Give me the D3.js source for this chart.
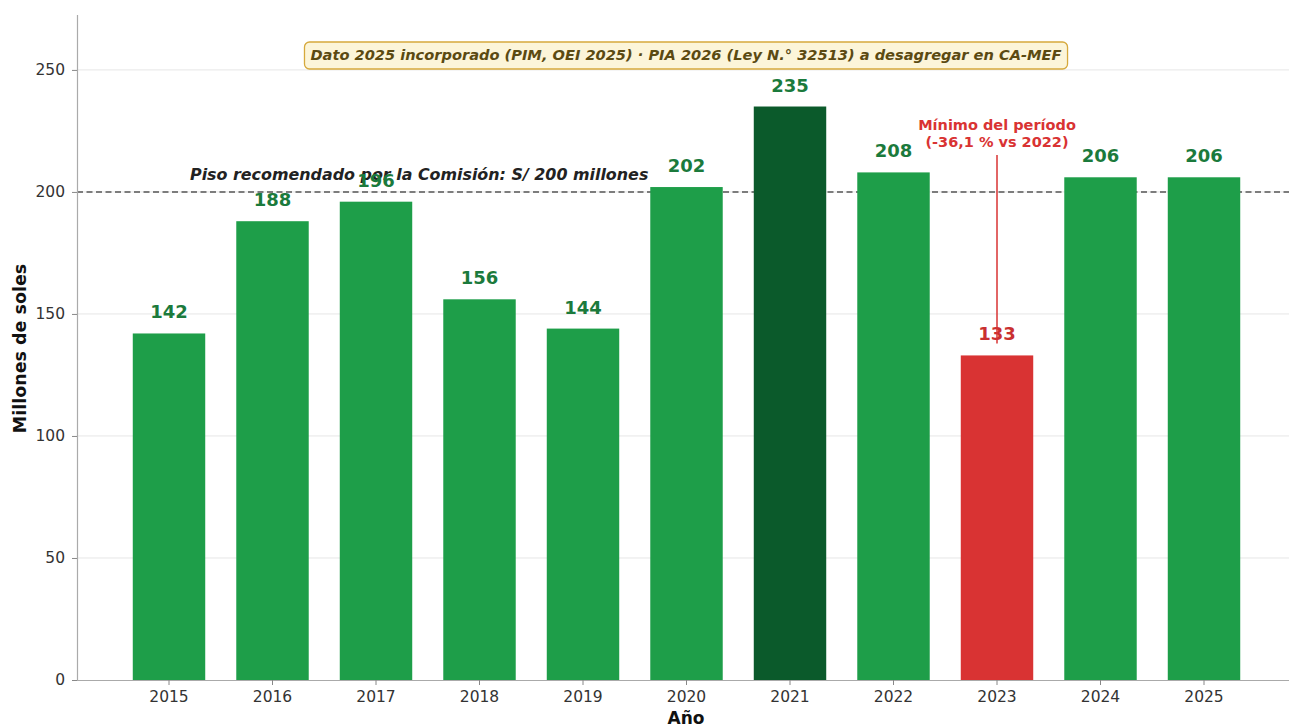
<!DOCTYPE html>
<html><head><meta charset="utf-8">
<script src="https://cdn.jsdelivr.net/npm/d3@7"></script>
<style>body{margin:0;background:#fff}svg{display:block;font-family:"DejaVu Sans",sans-serif}</style>
</head><body><svg id="c" width="1289" height="725"></svg>
<script>
const years = ["2015","2016","2017","2018","2019","2020","2021","2022","2023","2024","2025"];
const values = [142,188,196,156,144,202,235,208,133,206,206];
const yTicks = [0,50,100,150,200,250];
const floorValue = 200;
const floorLabel = "Piso recomendado por la Comisión: S/ 200 millones";
const noteText = "Dato 2025 incorporado (PIM, OEI 2025) · PIA 2026 (Ley N.° 32513) a desagregar en CA-MEF";
const minLabel = ["Mínimo del período","(-36,1 % vs 2022)"];
const minYear = "2023", maxYear = "2021";

const svg = d3.select("#c");
const L = 77, T = 15, B = 680;
const step = (1204 - 169) / (years.length - 1);
const xb = d3.scaleBand().domain(years).range([169 - step/2, 1204 + step/2]).paddingInner(0.3).paddingOuter(0.15);
const y = d3.scaleLinear().domain([0, 272.5]).range([B, T]);

// grid
svg.append("g").selectAll("line").data(yTicks.filter(d=>d>0)).join("line")
  .attr("x1", L).attr("x2", 1289).attr("y1", d=>y(d)).attr("y2", d=>y(d))
  .attr("stroke", "#e6e6e6").attr("stroke-width", 1);

// floor line
svg.append("line").attr("x1", L).attr("x2", 1289).attr("y1", y(floorValue)).attr("y2", y(floorValue))
  .attr("stroke", "#555").attr("stroke-width", 1.6).attr("stroke-dasharray", "6,3.5");
svg.append("text").attr("x", 190).attr("y", y(floorValue) - 12)
  .attr("font-size", 15.9).attr("font-weight", "bold").attr("font-style", "italic").attr("fill", "#222")
  .text(floorLabel);

// bars
const colorOf = d => d === maxYear ? "#0b5a2b" : d === minYear ? "#d93333" : "#1e9e49";
svg.append("g").selectAll("rect").data(years).join("rect")
  .attr("x", d => xb(d)).attr("width", xb.bandwidth())
  .attr("y", (d,i) => y(values[i])).attr("height", (d,i) => B - y(values[i]))
  .attr("fill", colorOf);

// value labels
svg.append("g").selectAll("text").data(years).join("text")
  .attr("x", d => xb(d) + xb.bandwidth()/2)
  .attr("y", (d,i) => y(values[i]) - 15)
  .attr("text-anchor", "middle").attr("font-size", 18).attr("font-weight", "bold")
  .attr("fill", d => d === minYear ? "#c93030" : "#1b7a3c")
  .text((d,i) => values[i]);

// min annotation
const mx = xb(minYear) + xb.bandwidth()/2;
const mi = years.indexOf(minYear);
svg.append("line").attr("x1", mx).attr("x2", mx).attr("y1", 155).attr("y2", y(values[mi]) - 12)
  .attr("stroke", "#d93333").attr("stroke-width", 1.5);
svg.append("text").attr("x", mx).attr("y", 130).attr("text-anchor", "middle")
  .attr("font-size", 14.5).attr("font-weight", "bold").attr("fill", "#d93333")
  .selectAll("tspan").data(minLabel).join("tspan").attr("x", mx).attr("dy", (d,i)=> i ? 17 : 0).text(d=>d);

// note box
const noteG = svg.append("g");
const nt = noteG.append("text").attr("x", 686).attr("y", 60).attr("text-anchor", "middle")
  .attr("font-size", 14.6).attr("font-weight", "bold").attr("font-style", "italic").attr("fill", "#5b4a12")
  .text(noteText);
const bb = nt.node().getBBox();
noteG.insert("rect", "text").attr("x", bb.x - 6).attr("y", 42).attr("width", bb.width + 12).attr("height", 27)
  .attr("rx", 5).attr("fill", "#fcf5d9").attr("stroke", "#d6a93c").attr("stroke-width", 1.3);

// axes
const yAxis = svg.append("g").attr("transform", `translate(${L},0)`)
  .call(d3.axisLeft(y).tickValues(yTicks).tickSize(5).tickPadding(7));
const xAxis = svg.append("g").attr("transform", `translate(0,${B})`)
  .call(d3.axisBottom(xb).tickSize(5).tickPadding(6));
xAxis.select(".domain").attr("d", `M${L},0.5H1289`);
yAxis.select(".domain").attr("d", `M0.5,${B}V${T}`);
[xAxis, yAxis].forEach(a => {
  a.select(".domain").attr("stroke", "#aaa").attr("stroke-width", 1.2);
  a.selectAll(".tick line").attr("stroke", "#888");
  a.selectAll(".tick text").attr("font-size", 15.5).attr("fill", "#333").attr("font-family", "DejaVu Sans");
});

svg.append("text").attr("transform", `translate(26,${(T+B)/2+1}) rotate(-90)`).attr("text-anchor", "middle")
  .attr("font-size", 17.5).attr("font-weight", "bold").attr("fill", "#111").text("Millones de soles");
svg.append("text").attr("x", 686).attr("y", 724).attr("text-anchor", "middle")
  .attr("font-size", 17).attr("font-weight", "bold").attr("fill", "#111").text("Año");
</script></body></html>
